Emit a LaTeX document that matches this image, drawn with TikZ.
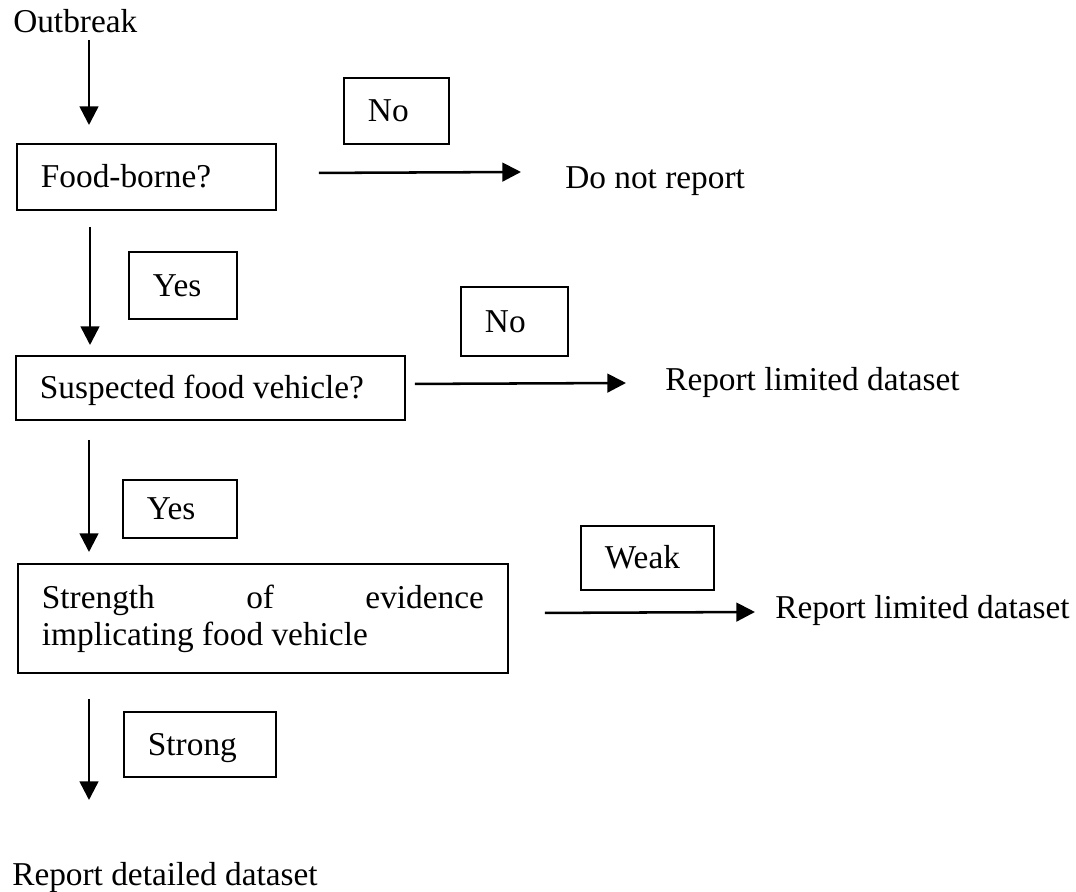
\documentclass[tikz,border=0pt]{standalone}
\usepackage{fontspec}
\setmainfont{Liberation Serif}
\usetikzlibrary{arrows.meta,calc}
\begin{document}
\begin{tikzpicture}[x=0.75pt,y=-0.75pt,
  every node/.style={font=\fontsize{25}{27.75}\selectfont},
  box/.style={draw, line width=1.4pt, anchor=north west, inner xsep=18pt, inner ysep=0pt, align=flush left},
  onebox/.style={box, text height=18pt, text depth=1.5pt},
  plain/.style={inner sep=0pt, anchor=base west},
  arr/.style={line width=1.9pt, -{Triangle[length=14pt,width=14pt]}}]
\useasboundingbox (0,0) rectangle (1076,892);

% plain texts
\node[plain] (ob)  at (13,33)  {Outbreak};
\node[plain] (dnr) at (565,189) {Do not report};
\node[plain] (rl1) at (665,390) {Report limited dataset};
\node[plain] (rl2) at (775,618) {Report limited dataset};
\node[plain] (det) at (12,885) {Report detailed dataset};

% decision boxes
\node[onebox, text width=158.25pt, minimum height=49.5pt] (food) at (16,143) {Food-borne?};
\node[onebox, text width=255.75pt, minimum height=48pt] (susp) at (15,355) {Suspected food vehicle?};
\node[box, text width=331.5pt, minimum height=81.75pt] (str) at (17,563)
  {Strength\hfill of\hfill evidence\\implicating food vehicle};

% label boxes
\node[onebox, text width=42.75pt, minimum height=49.5pt] (no1) at (343,77) {No};
\node[onebox, text width=45pt, minimum height=50.25pt] (yes1) at (128,251) {Yes};
\node[onebox, text width=44.25pt, minimum height=51.75pt] (no2) at (460,286) {No};
\node[onebox, text width=49.5pt, minimum height=43.5pt] (yes2) at (122,479) {Yes};
\node[onebox, text width=63.75pt, minimum height=48pt] (weak) at (580,525) {Weak};
\node[onebox, text width=78pt, minimum height=48.75pt] (strong) at (123,711) {Strong};

% vertical arrows
\draw[arr] ($(ob.base west)+(76,7)$) -- ($(food.north west)+(73,-18)$);
\draw[arr] ($(food.south west)+(74,16)$) -- ($(susp.north west)+(75,-10)$);
\draw[arr] ($(susp.south west)+(74,19)$) -- ($(str.north west)+(72,-11)$);
\draw[arr] ($(str.south west)+(72,25)$) -- ($(det.base west)+(77,-85)$);

% horizontal arrows
\draw[arr] ($(food.east)+(42,-4)$) -- ($(dnr.base west)+(-44,-17)$);
\draw[arr] ($(susp.east)+(9,-4)$) -- ($(rl1.base west)+(-39,-7)$);
\draw[arr] ($(str.east)+(36,-5.5)$) -- ($(rl2.base west)+(-20,-6)$);
\end{tikzpicture}
\end{document}
